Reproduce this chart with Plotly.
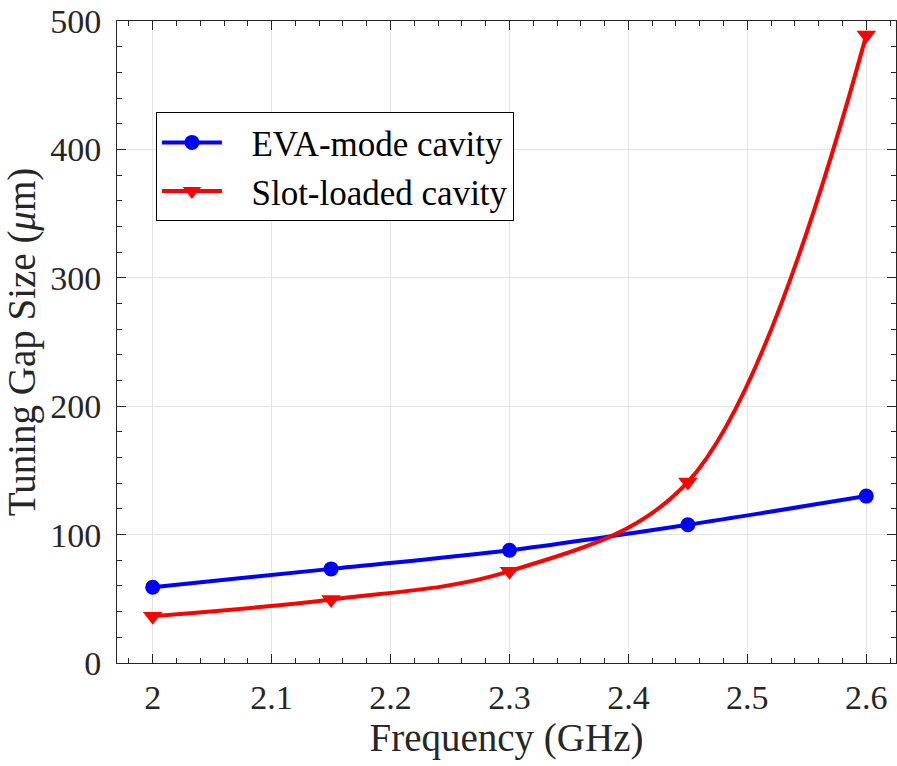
import plotly.graph_objects as go

# Resonant frequency (GHz) and tuning gap size (um)
freq = [2.0, 2.15, 2.3, 2.45, 2.6]
eva_gap = [59, 73.3, 87.8, 107.7, 130]
slot_gap = [36.5, 49.5, 71.5, 141, 489]

x_ticks = [2.0, 2.1, 2.2, 2.3, 2.4, 2.5, 2.6]
x_tick_text = ["2", "2.1", "2.2", "2.3", "2.4", "2.5", "2.6"]
y_ticks = [0, 100, 200, 300, 400, 500]

serif = "'Liberation Serif', 'Times New Roman', Tinos, 'DejaVu Serif', serif"
ink = "#262626"
pad = "\u2002\u2009"  # small gap between legend symbol and label

fig = go.Figure()
fig.add_trace(go.Scatter(
    x=freq, y=eva_gap, name=pad + "EVA-mode cavity",
    mode="lines+markers",
    line=dict(color="#0000ff", width=4, shape="spline", smoothing=0.9),
    marker=dict(symbol="circle", size=15, color="#0000ff"),
))
fig.add_trace(go.Scatter(
    x=freq, y=slot_gap, name=pad + "Slot-loaded cavity",
    mode="lines+markers",
    line=dict(color="#ff0000", width=4, shape="spline", smoothing=1.0),
    marker=dict(symbol="triangle-down", size=17, color="#ff0000"),
))

axis_common = dict(
    showline=True, linecolor=ink, linewidth=1, mirror="ticks",
    ticks="inside", ticklen=9, tickcolor=ink, tickwidth=1,
    showgrid=True, gridcolor="#e3e3e3", gridwidth=1,
    zeroline=False,
    tickfont=dict(family=serif, size=34, color=ink),
)

fig.update_xaxes(
    range=[1.97, 2.625],
    tickvals=x_ticks, ticktext=x_tick_text,
    minor=dict(dtick=0.02, ticks="inside", ticklen=5, tickcolor=ink, showgrid=False),
    title=dict(text="Frequency (GHz)", font=dict(family=serif, size=39, color=ink), standoff=2),
    ticklabelstandoff=4,
    **axis_common,
)
fig.update_yaxes(
    range=[0, 500],
    tickvals=y_ticks,
    minor=dict(dtick=20, ticks="inside", ticklen=5, tickcolor=ink, showgrid=False),
    title=dict(text="Tuning Gap Size (<i>μ</i>m)", font=dict(family=serif, size=39, color=ink), standoff=6),
    ticklabelstandoff=8,
    **axis_common,
)

fig.update_layout(
    width=897, height=766,
    margin=dict(l=117, r=1, t=21, b=103),
    paper_bgcolor="white", plot_bgcolor="white",
    font=dict(family=serif),
    showlegend=True,
    legend=dict(
        x=0.05, y=0.858, xanchor="left", yanchor="top",
        font=dict(family=serif, size=35, color="black"),
        bgcolor="white", bordercolor="black", borderwidth=1,
        itemwidth=60, tracegroupgap=0,
    ),
)

fig.write_html("out.html")
